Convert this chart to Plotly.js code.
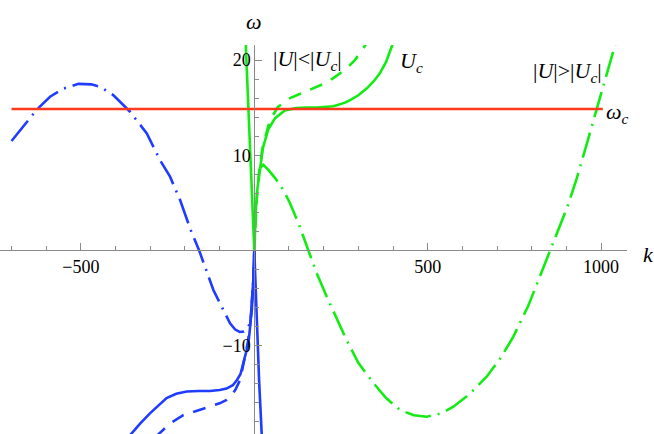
<!DOCTYPE html>
<html>
<head>
<meta charset="utf-8">
<script src="https://cdn.plot.ly/plotly-3.0.1.min.js"></script>
<style>
html,body{margin:0;padding:0;background:#fff;}
#graph{width:654px;height:434px;}
</style>
</head>
<body>
<div id="graph"></div>
<script>
//---------------------------------------------------------------------------
// values, k on x, omega on y
let omegaC = 14.85;
let cutK = [-700, 1005];

let blueDotK = [-700,-657,-627,-589,-550,-507,-470,-445,-406,-359,-310,-272,-243,-214,-185,-159,-118,-90,-70,-55,-42,-30,-20,-12,-7,-4,-2,0];
let blueDotW = [11.5,13.5,14.8,16.15,17.0,17.5,17.45,17.2,16.3,14.6,12.3,9.5,7.75,5.3,2.3,0,-4.15,-6.2,-7.65,-8.3,-8.55,-8.5,-8.2,-7.6,-6.2,-4,-2,0];

let blueSolidK = [-370,-330,-301,-275,-253,-225,-195,-160,-128,-100,-80,-62,-50,-40,-32,-22,-17,-12,-6,-3,-1,0];
let blueSolidW = [-19.9,-18.2,-17.1,-16.2,-15.5,-15.05,-14.8,-14.75,-14.75,-14.65,-14.5,-14.15,-13.6,-13.0,-11.85,-10.45,-9.75,-8.0,-5.2,-3.2,-1.5,0];

let blueDashK = [-285,-243,-205,-165,-128,-100,-80,-65,-55,-41,-27,-18,-10,-5,-2,0];
let blueDashW = [-19.6,-18.15,-17.3,-16.8,-16.4,-16.05,-15.7,-15.2,-14.65,-13.6,-11.15,-9.5,-7.2,-4.8,-2.5,0];

let blueSteepK = [0,7,14,23];
let blueSteepW = [0,-8,-13.8,-20.5];

let greenSteepK = [0,-6,-12.4,-18,-25];
let greenSteepW = [0,5,10,15,22];

let greenSolidK = [0,2,5,9,16,25,40,60,88,120,150,180,228,260,276,300,324,345,362,380,396,405];
let greenSolidW = [0,2.5,4.6,6.5,8.5,10.8,12.7,13.9,14.7,14.95,15.0,15.0,15.15,15.5,15.8,16.3,17.0,17.8,18.6,19.8,21.4,22.2];

let greenDashK = [0,3,8,15,25,45,69,103,135,170,200,228,266,290,314,330];
let greenDashW = [0,3,6,8.7,11,13.7,15.1,16.0,16.5,17.0,17.5,18.1,19.1,20.0,21.2,22.2];

let greenDotK = [18,26,40,60,84,103,130,156,180,209,240,266,300,343,380,420,460,497,540,574,620,670,710,747,790,824,853,877,905,930,954,975,988,1010,1035,1045];
let greenDotW = [8.7,9.0,8.5,7.6,6.35,4.96,2.6,0,-2.4,-4.85,-7.4,-9.4,-11.8,-13.9,-15.5,-16.75,-17.3,-17.45,-17.1,-16.4,-15.1,-13.25,-11.3,-9.05,-5.8,-2.75,0,2.2,4.8,7.6,10.6,13.2,14.85,17.7,20.9,22.2];

let kTicks = [-500, 500, 1000];
let kTickText = ['\u2212500', '500', '1000'];
let wTicks = [-10, 10, 20];
let wTickText = ['\u221210', '10', '20'];
//---------------------------------------------------------------------------

let green = '#12ec12';
let blue = '#1f3cff';
let red = '#ff3a1c';
let axisGray = '#8a8a8a';
let serif = '"Liberation Serif", "DejaVu Serif", serif';

let xRange = [-733.3, 1074.7];
let yRange = [-19.27, 21.58];

// plot box in pixels
let W = 654, H = 434, mL = 0, mR = 27, mT = 45, mB = 0;
let boxW = W - mL - mR, boxH = H - mT - mB;
function px(x){ return (x - mL) / boxW; }
function py(y){ return (H - mB - y) / boxH; }

function curve(k, w, color, dash){
    return {
        x: k, y: w, type: 'scatter', mode: 'lines',
        line: {color: color, width: 2.6, dash: dash},
        hoverinfo: 'skip'
    };
}

let dashed = '13px,10px';
let dashDot = '26px,7px,2px,7px';

let traces = [
    curve(blueDotK, blueDotW, blue, dashDot),
    curve(blueDashK, blueDashW, blue, dashed),
    curve(blueSolidK, blueSolidW, blue, 'solid'),
    curve(blueSteepK, blueSteepW, blue, 'solid'),
    curve(greenDotK, greenDotW, green, dashDot),
    curve(greenDashK, greenDashW, green, dashed),
    curve(greenSolidK, greenSolidW, green, 'solid'),
    curve(greenSteepK, greenSteepW, green, 'solid'),
    {x: cutK, y: [omegaC, omegaC], type: 'scatter', mode: 'lines',
        line: {color: red, width: 2.5}, hoverinfo: 'skip'}
];

function label(text, x, y){
    return {text: text, xref: 'paper', yref: 'paper', x: px(x), y: py(y),
        xanchor: 'center', yanchor: 'middle', showarrow: false,
        font: {family: serif, size: 22, color: '#000'}};
}

let tickFont = {family: serif, size: 18, color: '#000'};

let myLayout = {
    width: W, height: H,
    margin: {l: mL, r: mR, t: mT, b: mB},
    paper_bgcolor: '#fff', plot_bgcolor: '#fff',
    font: {family: serif},
    showlegend: false,
    xaxis: {
        range: xRange, anchor: 'free',
        position: (0 - yRange[0]) / (yRange[1] - yRange[0]),
        showline: true, linecolor: axisGray, linewidth: 1,
        ticks: 'inside', ticklen: 7, tickwidth: 1, tickcolor: axisGray,
        tickmode: 'array', tickvals: kTicks, ticktext: kTickText,
        minor: {tickmode: 'linear', tick0: 0, dtick: 100, ticks: 'inside', ticklen: 4, tickcolor: axisGray},
        tickfont: tickFont,
        showgrid: false, zeroline: false, fixedrange: true
    },
    yaxis: {
        range: yRange, anchor: 'free',
        position: (0 - xRange[0]) / (xRange[1] - xRange[0]),
        showline: true, linecolor: axisGray, linewidth: 1,
        ticks: 'inside', ticklen: 7, tickwidth: 1, tickcolor: axisGray,
        tickmode: 'array', tickvals: wTicks, ticktext: wTickText,
        minor: {tickmode: 'linear', tick0: 0, dtick: 2, ticks: 'inside', ticklen: 4, tickcolor: axisGray},
        tickfont: tickFont,
        showgrid: false, zeroline: false, fixedrange: true
    },
    annotations: [
        label('<i>\u03c9</i>', 254, 21),
        label('<i>k</i>', 648, 254),
        label('<i>\u03c9</i><sub><i>c</i></sub>', 617, 113),
        label('|<i>U</i>|&lt;|<i>U</i><sub><i>c</i></sub>|', 307, 60),
        label('<i>U</i><sub><i>c</i></sub>', 411, 62),
        label('|<i>U</i>|&gt;|<i>U</i><sub><i>c</i></sub>|', 567, 72)
    ]
};

Plotly.newPlot('graph', traces, myLayout, {displayModeBar: false, staticPlot: true});
</script>
</body>
</html>
